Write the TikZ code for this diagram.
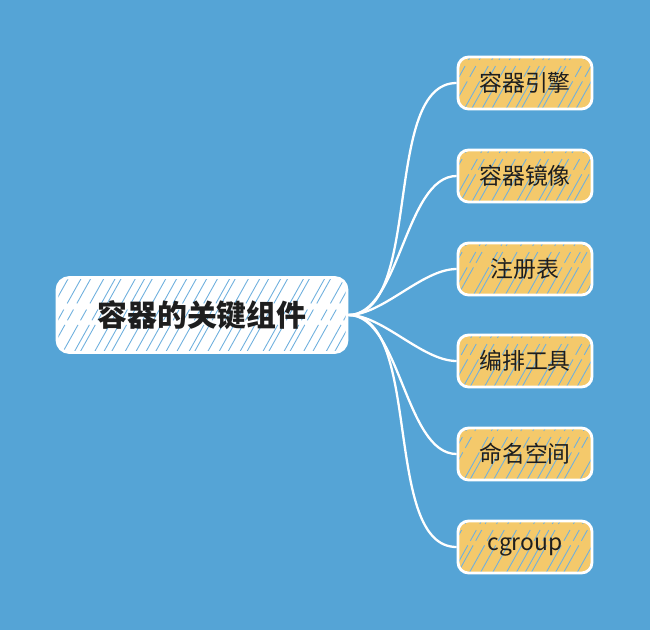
\documentclass[tikz,border=0pt]{standalone}
\usepackage{fontspec}
\setmainfont{Noto Sans CJK SC}
\usetikzlibrary{positioning}
\definecolor{bgblue}{HTML}{55A4D6}
\definecolor{cardyellow}{HTML}{F4C96B}
\definecolor{hatchblue}{HTML}{6FB0DE}
\definecolor{inkblack}{HTML}{1E1E1E}
\pgfmathsetseed{7}

\begin{document}
\begin{tikzpicture}

          % Background and bounding box
          \fill[bgblue] (0,0) rectangle (13,12.6);
          % Setup the styles for the boxes
          \tikzset{hatched/.style={path picture={
                     \foreach \k in {0,...,34}{
                       \pgfmathsetmacro{\dx}{\k*0.21+0.07*rand-1.2}
                       \draw[#1, line width=0.5pt,
                             dash pattern=on 18pt off 3pt on 7pt off 4pt]
                         ([xshift=\dx cm]path picture bounding box.south west)
                           -- ++(0.95,1.7);
                     }}},
                   root style/.style={rectangle,
                                      rounded corners=7pt,
                                      minimum width=5.8cm,
                                      minimum height=1.5cm,
                                      draw=white,
                                      line width=1.6pt,
                                      fill=white,
                                      hatched=hatchblue,
                                      text=inkblack,
                                      font=\fontsize{17}{20}\selectfont\bfseries},
                   part style/.style={rectangle,
                                      rounded corners=6pt,
                                      minimum width=2.68cm,
                                      minimum height=1.04cm,
                                      draw=white,
                                      line width=1.6pt,
                                      fill=cardyellow,
                                      hatched=hatchblue,
                                      text=inkblack,
                                      font=\fontsize{13}{15}\selectfont}}
          % Draw the boxes
          \node[root style] at (4.04, 6.3)  (key)       {容器的关键组件};
          \node[part style] at (10.5, 10.94) (engine)   {容器引擎};
          \node[part style] at (10.5, 9.08)  (image)    {容器镜像};
          \node[part style] at (10.5, 7.22)  (registry) {注册表};
          \node[part style] at (10.5, 5.38)  (orch)     {编排工具};
          \node[part style] at (10.5, 3.52)  (ns)       {命名空间};
          \node[part style] at (10.5, 1.66)  (cgroup)   {cgroup};
          % Connect the boxes with curves
          \draw[white,
                line width=1.3pt,
                out=0, in=180,
                looseness=0.75]
              (key.east) edge (engine.west)
              (key.east) edge (image.west)
              (key.east) edge (registry.west)
              (key.east) edge (orch.west)
              (key.east) edge (ns.west)
              (key.east) edge (cgroup.west);
      \end{tikzpicture}
\end{document}
